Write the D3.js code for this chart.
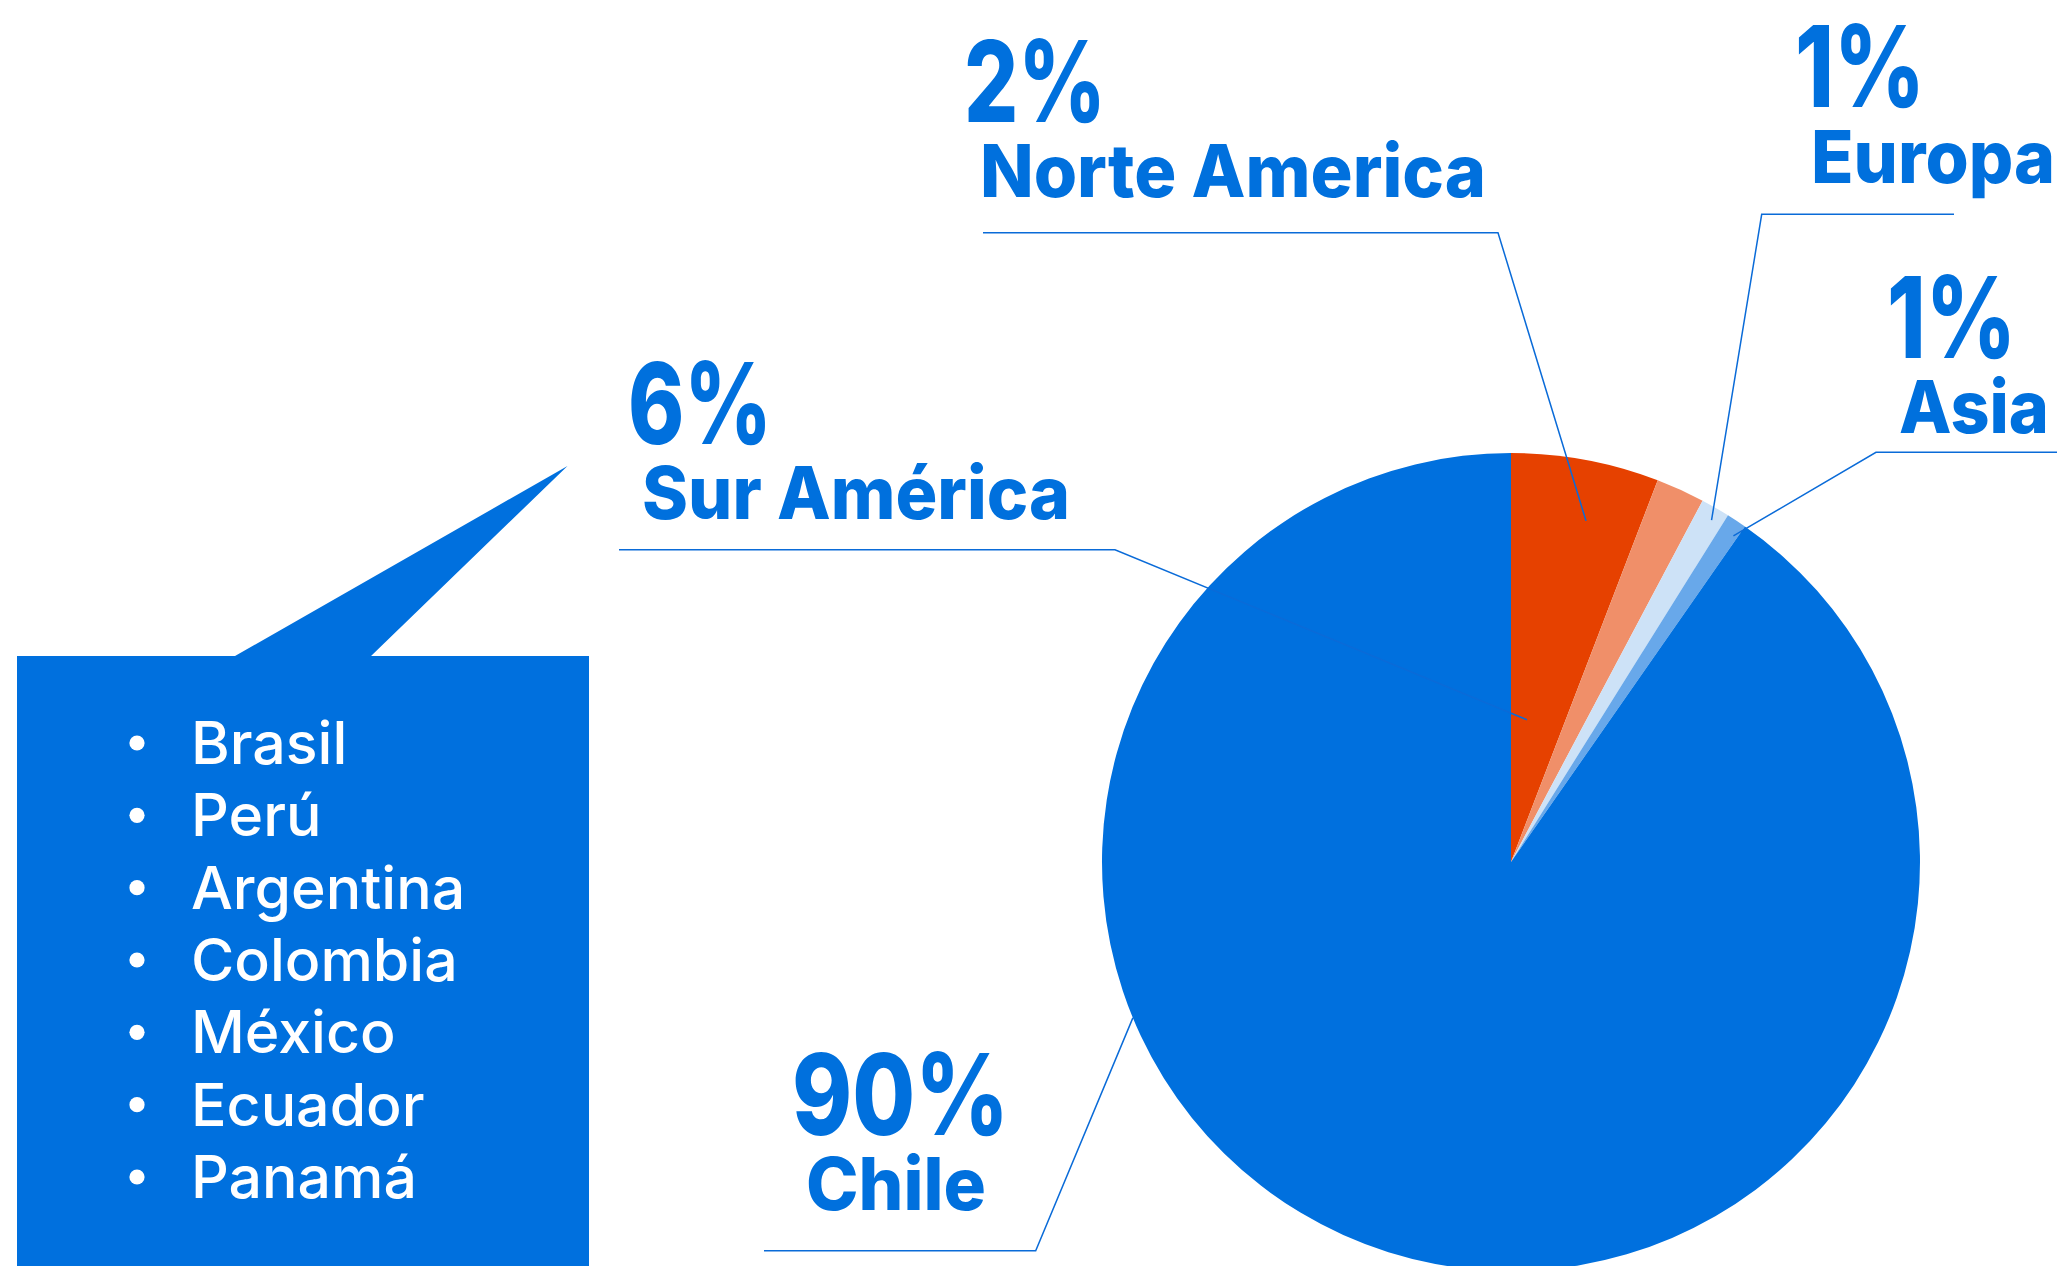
<!DOCTYPE html>
<html>
<head>
<meta charset="utf-8">
<script src="https://cdn.jsdelivr.net/npm/d3@7"></script>
<style>
  html, body { margin: 0; padding: 0; background: #fff; overflow: hidden; }
  svg { display: block; }
  .pct  { font-family: Inter, "Noto Sans", sans-serif; font-weight: 800; fill: #0070dd; }
  .name { font-family: Inter, "Noto Sans", sans-serif; font-weight: 800; fill: #0070dd; }
  .item { font-family: Inter, "Noto Sans", sans-serif; font-weight: 500; fill: #fff; }
</style>
</head>
<body>
<div id="chart"></div>
<script>
// slice data, clockwise from 12 o'clock (share of the pie)
var regions = ["Sur América", "Norte America", "Europa", "Asia", "Chile"];
var shares  = [5.84, 1.92, 1.14, 0.79, 90.31];
var pctLabels = ["6%", "2%", "1%", "1%", "90%"];
var sliceColors = ["#e64100", "#f08f69", "#cde2f7", "#68a8ea", "#0070de"];

// countries in the South America callout
var countries = ["Brasil", "Perú", "Argentina", "Colombia", "México", "Ecuador", "Panamá"];

var W = 2069, H = 1266;
var cx = 1511, cy = 862, R = 409;

var svg = d3.select("#chart").append("svg")
    .attr("width", W)
    .attr("height", H);

// pie
var pie = d3.pie().sort(null).value(function(d){ return d; });
var arc = d3.arc().innerRadius(0).outerRadius(R);

var gPie = svg.append("g").attr("transform", "translate(" + cx + "," + cy + ")");
gPie.selectAll("path")
    .data(pie(shares))
    .enter()
    .append("path")
    .attr("d", arc)
    .attr("fill", function(d, i){ return sliceColors[i]; });

// label layout: where each label block sits and how its leader runs
// tip = [angle in degrees, fraction of radius] inside the pie
var labelLayout = [
  {pct: [628, 444, 144],  name: [642, 519, 428],  tip: [6.4, 0.35],  elbow: [1115, 549.7], lineStart: 619},
  {pct: [964, 122, 142],  name: [980, 197, 506],  tip: [12.4, 0.854], elbow: [1498, 232.7], lineStart: 983},
  {pct: [1795, 107, 130], name: [1811, 183, 244], tip: [30.4, 0.969], elbow: [1761.7, 214.3], lineStart: 1954},
  {pct: [1887, 358, 129], name: [1899, 433, 150], tip: [34.3, 0.965], elbow: [1876, 452.3], lineStart: 2057},
  {pct: [792, 1135, 217], name: [806, 1210, 180], tip: [247.6, 1.0], elbow: [1035.7, 1250.7], lineStart: 764}
];

// callout box with pointer to the Sur América label
var box = {x0: 17, x1: 589, y0: 656, y1: H + 2};
var pointer = [[235, 656], [567.5, 466], [371, 656]];
var boxPath = d3.path();
boxPath.moveTo(box.x0, box.y0);
boxPath.lineTo(pointer[0][0], pointer[0][1]);
boxPath.lineTo(pointer[1][0], pointer[1][1]);
boxPath.lineTo(pointer[2][0], pointer[2][1]);
boxPath.lineTo(box.x1, box.y0);
boxPath.lineTo(box.x1, box.y1);
boxPath.lineTo(box.x0, box.y1);
boxPath.closePath();
svg.append("path").attr("d", boxPath.toString()).attr("fill", "#0070de");

// bullet list
var rowY = d3.scalePoint().domain(countries).range([764, 1198]);
var gList = svg.append("g");
gList.selectAll("circle")
    .data(countries)
    .enter()
    .append("circle")
    .attr("cx", 137)
    .attr("cy", function(d){ return rowY(d) - 21; })
    .attr("r", 7.6)
    .attr("fill", "#fff");
gList.selectAll("text")
    .data(countries)
    .enter()
    .append("text")
    .attr("class", "item")
    .attr("x", 191)
    .attr("y", function(d){ return rowY(d); })
    .attr("font-size", 59)
    .text(function(d){ return d; });

// leader lines
var gLines = svg.append("g")
    .attr("fill", "none")
    .attr("stroke", "#0a6bd8")
    .attr("stroke-width", 1.5);
labelLayout.forEach(function(L, i){
  var t = d3.pointRadial(L.tip[0] * Math.PI / 180, L.tip[1] * R);
  var pts = [[L.lineStart, L.elbow[1]], L.elbow, [cx + t[0], cy + t[1]]];
  gLines.append("path").attr("d", d3.line()(pts));
});

// labels
var gLabels = svg.append("g");
labelLayout.forEach(function(L, i){
  gLabels.append("text")
      .attr("class", "pct")
      .attr("x", L.pct[0])
      .attr("y", L.pct[1])
      .attr("font-size", 113)
      .attr("textLength", L.pct[2])
      .attr("lengthAdjust", "spacingAndGlyphs")
      .text(pctLabels[i]);
  gLabels.append("text")
      .attr("class", "name")
      .attr("x", L.name[0])
      .attr("y", L.name[1])
      .attr("font-size", 73)
      .attr("textLength", L.name[2])
      .attr("lengthAdjust", "spacingAndGlyphs")
      .text(regions[i]);
});
</script>
</body>
</html>
